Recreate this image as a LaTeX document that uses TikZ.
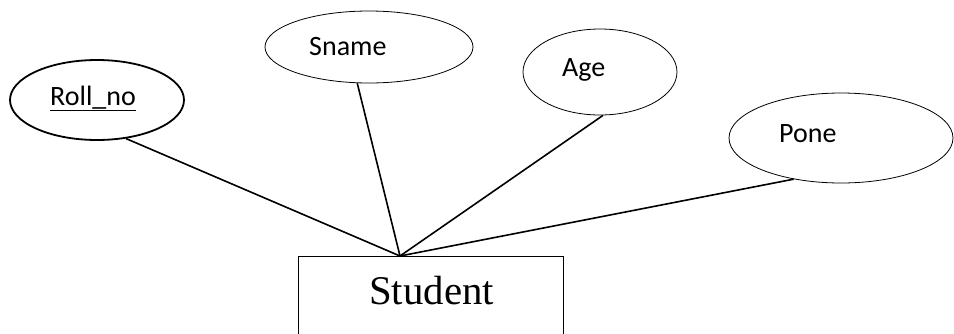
\documentclass[tikz,border=0pt]{standalone}
\usepackage{fontspec}
\setmainfont{Liberation Serif}
\newfontfamily\attrfont{Carlito}
\usetikzlibrary{shapes.geometric}
\tikzset{
  attr/.style={ellipse, draw, line width=0.8pt, inner sep=0pt},
  keyattr/.style={attr, line width=1.8pt},
  attrname/.style={anchor=base west, inner sep=0pt, font=\attrfont\fontsize{28}{32}\selectfont},
  link/.style={line width=1.6pt}
}
\begin{document}
\begin{tikzpicture}[x=1pt,y=-1pt]
\useasboundingbox (0,0) rectangle (954,333);
\clip (0,0) rectangle (954,333);
% entity
\node[draw, line width=0.8pt, minimum width=265pt, minimum height=110pt, anchor=north] (student) at (430.5,256){};
\node[anchor=base west, inner sep=0pt, font=\fontsize{40.8}{44}\selectfont] (stname) at (369,304){Student};
\coordinate (apex) at ([xshift=-30.5pt]student.north);
% attributes
\node[keyattr, minimum width=174pt, minimum height=80pt] (roll) at (97,100){};
\node[attrname] (rollname) at (50,105.5){\underline{Roll\_no}};
\node[attr, minimum width=208pt, minimum height=72pt] (sname) at (369,47){};
\node[attrname] (snamename) at (309,55){Sname};
\node[attr, minimum width=154pt, minimum height=86pt] (age) at (600,72){};
\node[attrname] (agename) at (562,76){Age};
\node[attr, minimum width=224pt, minimum height=90pt] (pone) at (841,138){};
\node[attrname] (ponename) at (779,142){Pone};
% links to the entity
\draw[link](roll.-53) -- (apex);
\draw[link](sname.-108) -- (apex);
\draw[link](age.-86) -- (apex);
\draw[link](pone.-139) -- (apex);
\end{tikzpicture}
\end{document}
